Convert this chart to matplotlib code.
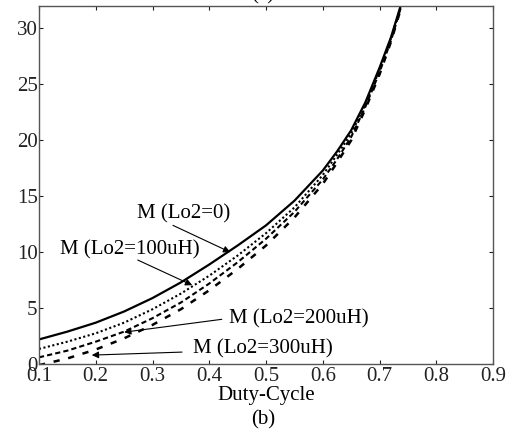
import matplotlib
matplotlib.use("Agg")
import matplotlib.pyplot as plt

plt.rcParams['font.family'] = ['Liberation Serif', 'DejaVu Serif']

duty = [0.10, 0.15, 0.20, 0.25, 0.30, 0.35, 0.40, 0.45, 0.50, 0.55,
        0.60, 0.625, 0.65, 0.675, 0.70, 0.72, 0.74]
m_0 = [2.2, 2.9, 3.7, 4.7, 5.9, 7.3, 8.9, 10.6, 12.4, 14.6,
       17.3, 19.0, 20.9, 23.4, 26.5, 29.2, 32.5]
m_100 = [1.35, 2.0, 2.75, 3.7, 4.9, 6.3, 7.9, 9.7, 11.7, 14.0,
         16.9, 18.7, 20.6, 23.2, 26.3, 29.1, 32.4]
m_200 = [0.6, 1.2, 2.0, 2.9, 4.1, 5.5, 7.2, 9.1, 11.2, 13.6,
         16.5, 18.3, 20.3, 23.0, 26.1, 28.9, 32.3]
m_300 = [-0.1, 0.5, 1.3, 2.3, 3.5, 4.9, 6.6, 8.5, 10.6, 13.1,
         16.1, 18.0, 20.0, 22.8, 25.9, 28.8, 32.2]

fig = plt.figure(figsize=(5.19, 4.36), dpi=100)
ax = fig.add_axes([0.0751, 0.165, 0.875, 0.821])

ax.plot(duty, m_0, color="black", lw=1.6)
ax.plot(duty, m_100, color="black", lw=1.5, dashes=(1, 1.2))
ax.plot(duty, m_200, color="black", lw=1.5, dashes=(2.5, 1.5))
ax.plot(duty, m_300, color="black", lw=1.8, dashes=(2.5, 3.5))

ax.set_xlim(0.1, 0.9)
ax.set_ylim(0, 32)
ax.set_xticks([0.1, 0.2, 0.3, 0.4, 0.5, 0.6, 0.7, 0.8, 0.9])
ax.set_xticklabels(["0.1", "0.2", "0.3", "0.4", "0.5", "0.6", "0.7", "0.8", "0.9"])
ax.set_yticks([0, 5, 10, 15, 20, 25, 30])
ax.tick_params(direction="in", length=3, width=0.8, top=True, right=True,
               labelsize=15, colors="#222222")
ax.tick_params(axis="x", pad=2)
ax.tick_params(axis="y", pad=1)
for s in ax.spines.values():
    s.set_color("#555555")
    s.set_linewidth(1.0)

ax.set_xlabel("Duty-Cycle", fontsize=15, labelpad=0)

arrow = dict(arrowstyle="-|>", color="black", lw=0.8, mutation_scale=10,
             shrinkA=0, shrinkB=0)
ax.text(0.354, 13.4, "M (Lo2=0)", fontsize=15, ha="center", va="center")
ax.annotate("", xy=(0.437, 10.0), xytext=(0.336, 12.4), arrowprops=arrow)
ax.text(0.260, 10.2, "M (Lo2=100uH)", fontsize=15, ha="center", va="center")
ax.annotate("", xy=(0.370, 7.05), xytext=(0.274, 9.3), arrowprops=arrow)
ax.text(0.558, 4.0, "M (Lo2=200uH)", fontsize=15, ha="center", va="center")
ax.annotate("", xy=(0.250, 2.85), xytext=(0.422, 4.0), arrowprops=arrow)
ax.text(0.495, 1.35, "M (Lo2=300uH)", fontsize=15, ha="center", va="center")
ax.annotate("", xy=(0.193, 0.8), xytext=(0.352, 1.07), arrowprops=arrow)

fig.text(0.507, 1.012, "(a)", fontsize=15, ha="center", va="center")
fig.text(0.507, 1 - 420 / 436, "(b)", fontsize=15, ha="center", va="center")

fig.savefig("out.png", dpi=100)
